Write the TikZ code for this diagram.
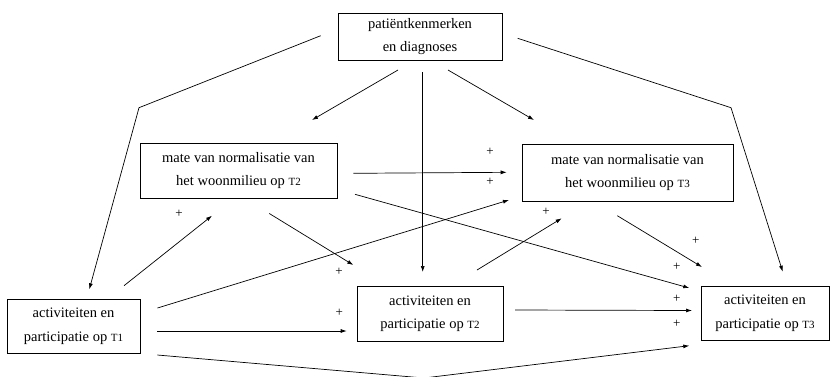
\documentclass[tikz,border=0pt]{standalone}
\usepackage{fontspec}
\setmainfont{Liberation Serif}
\usetikzlibrary{arrows.meta}
\newcommand{\smT}[1]{{\fontsize{11}{12}\selectfont T#1}}
\tikzset{
  box/.style={draw, line width=0.8pt, align=center, inner sep=0pt,
    font=\fontsize{14.5}{23.5}\selectfont},
  conn/.style={line width=0.7pt, -{Latex[length=6pt,width=4pt]}},
  plain/.style={line width=0.7pt},
  plus/.style={font=\fontsize{13}{14}\selectfont, inner sep=0pt},
}
\begin{document}
\begin{tikzpicture}[x=1pt,y=-1pt]
\useasboundingbox (0,0) rectangle (836,376);
% boxes
\node[box, minimum width=164pt, minimum height=47pt] (top) at (420,36.5) {patiëntkenmerken\\en diagnoses};
\node[box, minimum width=197pt, minimum height=55pt] (m2) at (238.5,170.5) {mate van normalisatie van\\het woonmilieu op \smT{2}};
\node[box, minimum width=211pt, minimum height=57pt] (m3) at (627.5,172.5) {mate van normalisatie van\\het woonmilieu op \smT{3}};
\node[box, minimum width=133pt, minimum height=54pt] (a1) at (73.5,326) {activiteiten en\\participatie op \smT{1}};
\node[box, minimum width=146pt, minimum height=55pt] (a2) at (430,313.5) {activiteiten en\\participatie op \smT{2}};
\node[box, minimum width=128pt, minimum height=54pt] (a3) at (765,313) {activiteiten en\\participatie op \smT{3}};
% connector end points
\coordinate (c1s) at (320.7,35.7); \coordinate (c1b) at (139,107.7); \coordinate (c1e) at (89.3,289.3);
\coordinate (c2s) at (517.7,38.3); \coordinate (c2b) at (731,107.7); \coordinate (c2e) at (782.7,271.7);
\coordinate (c3s) at (398,70); \coordinate (c3e) at (312,120);
\coordinate (c4s) at (422.7,72); \coordinate (c4e) at (422.7,272);
\coordinate (c5s) at (448,70); \coordinate (c5e) at (534,120);
\coordinate (c6s) at (353.3,173.3); \coordinate (c6e) at (506.7,172.3);
\coordinate (c7s) at (355,194.3); \coordinate (c7e) at (689.3,288);
\coordinate (c8s) at (124,285.7); \coordinate (c8e) at (212,215.7);
\coordinate (c9s) at (269.3,213.5); \coordinate (c9e) at (353.3,265);
\coordinate (c10s) at (157.5,308); \coordinate (c10e) at (509,200);
\coordinate (c11s) at (157.3,331); \coordinate (c11e) at (346.7,331);
\coordinate (c12s) at (477,270); \coordinate (c12e) at (561.7,218.3);
\coordinate (c13s) at (617.3,215.7); \coordinate (c13e) at (702,267);
\coordinate (c14s) at (515,310); \coordinate (c14e) at (692,310.5);
\coordinate (c15s) at (157.3,355); \coordinate (c15b) at (424,378); \coordinate (c15e) at (689.3,345.7);
% connectors
\draw[conn] (c1s) -- (c1b) -- (c1e);
\draw[conn] (c2s) -- (c2b) -- (c2e);
\draw[conn] (c3s) -- (c3e);
\draw[conn] (c4s) -- (c4e);
\draw[conn] (c5s) -- (c5e);
\draw[conn] (c6s) -- (c6e);
\draw[conn] (c7s) -- (c7e);
\draw[conn] (c8s) -- (c8e);
\draw[conn] (c9s) -- (c9e);
\draw[conn] (c10s) -- (c10e);
\draw[conn] (c11s) -- (c11e);
\draw[conn] (c12s) -- (c12e);
\draw[conn] (c13s) -- (c13e);
\draw[conn] (c14s) -- (c14e);
\draw[conn] (c15s) -- (c15b) -- (c15e);
% plus labels
\node[plus] (p1) at (179,214.3) {+};
\node[plus] (p2) at (339,271.7) {+};
\node[plus] (p3) at (339.3,313.3) {+};
\node[plus] (p4) at (490,151.7) {+};
\node[plus] (p5) at (490,181.7) {+};
\node[plus] (p6) at (546,211.7) {+};
\node[plus] (p7) at (695.7,240.7) {+};
\node[plus] (p8) at (676.7,266.7) {+};
\node[plus] (p9) at (676.7,299) {+};
\node[plus] (p10) at (676.7,324) {+};
\end{tikzpicture}
\end{document}
